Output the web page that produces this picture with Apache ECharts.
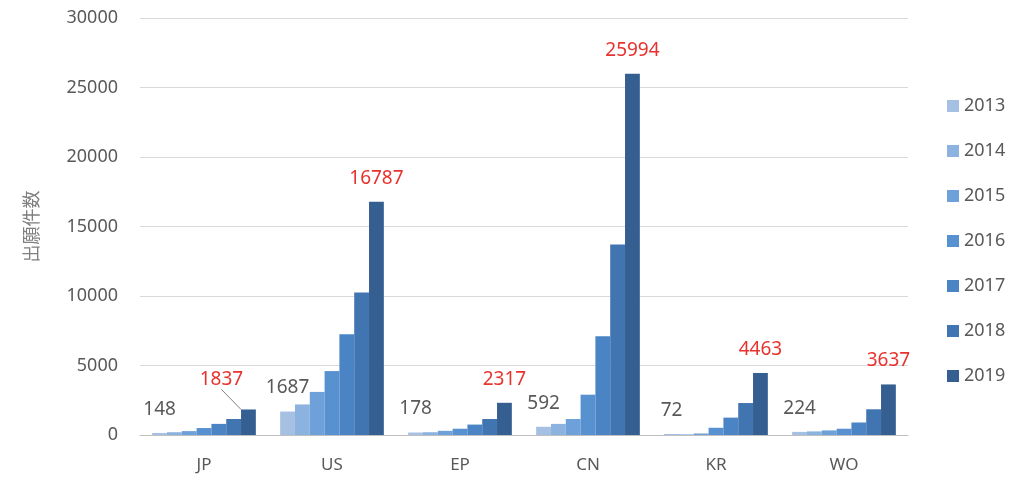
<!DOCTYPE html>
<html>
<head>
<meta charset="utf-8">
<script src="https://cdn.jsdelivr.net/npm/echarts@6/dist/echarts.min.js"></script>
<style>
  html, body { margin: 0; padding: 0; background: #fff; }
  #main { width: 1024px; height: 477px; }
</style>
</head>
<body>
<div id="main"></div>
<script>
// 地域・年ごとの出願件数
var regions = ["JP", "US", "EP", "CN", "KR", "WO"];
var years = ["2013", "2014", "2015", "2016", "2017", "2018", "2019"];
var yTicks = [0, 5000, 10000, 15000, 20000, 25000, 30000];

var v2013 = [148, 1687, 178, 592, 72, 224];
var v2014 = [200, 2200, 200, 800, 50, 260];
var v2015 = [280, 3100, 300, 1150, 110, 330];
var v2016 = [500, 4600, 450, 2900, 520, 450];
var v2017 = [800, 7250, 750, 7100, 1250, 900];
var v2018 = [1150, 10250, 1150, 13700, 2300, 1850];
var v2019 = [1837, 16787, 2317, 25994, 4463, 3637];

var values = [v2013, v2014, v2015, v2016, v2017, v2018, v2019];
var colors = ["#a5c0e3", "#8cb2e0", "#6ea0d9", "#5791d0", "#4a84c4", "#4075b1", "#355f91"];

var myChart = echarts.init(document.getElementById("main"));

var series = years.map(function (y, i) {
    var s = {
        name: y,
        type: "bar",
        barGap: "0%",
        barCategoryGap: "19%",
        itemStyle: { color: colors[i] },
        data: values[i].slice()
    };
    if (i === 0) {
        s.label = {
            show: true, position: "top", distance: 14,
            color: "#595959", fontSize: 19, fontFamily: "Noto Sans"
        };
    }
    if (i === years.length - 1) {
        s.label = {
            show: true, position: "top", distance: 14,
            color: "#e8322d", fontSize: 19, fontFamily: "Noto Sans"
        };
        // JPのラベルだけ左上にずらして引き出し線
        s.data[0] = {
            value: values[i][0],
            labelLine: { show: true, lineStyle: { color: "#808080", width: 1 } }
        };
        s.labelLayout = function (p) {
            if (p.dataIndex === 0) return { dx: -27, dy: -6 };
            return {};
        };
    }
    return s;
});

var option = {
    animation: false,
    color: colors,
    grid: { left: 140, right: 116, top: 18, bottom: 42 },
    legend: {
        orient: "vertical",
        left: 942,
        top: 92,
        itemWidth: 12,
        itemHeight: 12,
        itemGap: 27,
        icon: "rect",
        data: years,
        textStyle: { color: "#595959", fontSize: 18, fontFamily: "Noto Sans" }
    },
    xAxis: {
        type: "category",
        data: regions,
        axisLine: { lineStyle: { color: "#bfbfbf" } },
        axisTick: { show: false },
        axisLabel: { color: "#595959", fontSize: 17, margin: 22, fontFamily: "Noto Sans" }
    },
    yAxis: {
        type: "value",
        min: yTicks[0],
        max: yTicks[yTicks.length - 1],
        interval: 5000,
        name: "出願件数",
        nameLocation: "middle",
        nameRotate: 90,
        nameGap: 100,
        nameTextStyle: { color: "#7f7f7f", fontSize: 18, fontFamily: "Noto Sans CJK JP" },
        axisLine: { show: false },
        axisTick: { show: false },
        axisLabel: {
            color: "#595959", fontSize: 18, margin: 22, fontFamily: "Noto Sans",
            formatter: function (v) { return String(v); }
        },
        splitLine: { lineStyle: { color: "#d9d9d9" } }
    },
    series: series
};

myChart.setOption(option);
</script>
</body>
</html>
